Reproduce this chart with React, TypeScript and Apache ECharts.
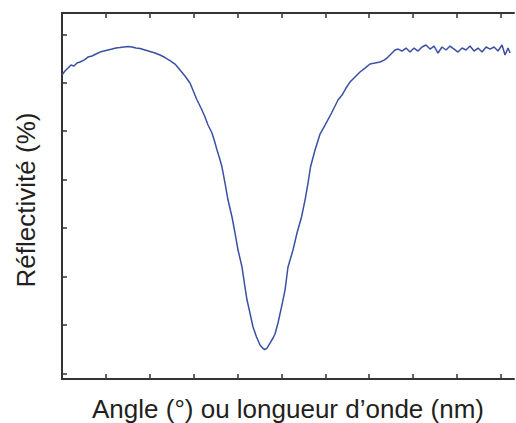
import React, { useEffect, useRef } from "react";
import * as echarts from "echarts";

// Angle (tick units) and reflectivity readings
const angle = [
  0.0, 0.068, 0.137, 0.205, 0.273, 0.342, 0.41, 0.501, 0.592, 0.684, 0.775, 0.866, 0.957, 1.048, 1.139, 1.231,
  1.322, 1.413, 1.504, 1.595, 1.686, 1.778, 1.891, 2.005, 2.119, 2.233, 2.347, 2.461, 2.575, 2.689, 2.803, 2.917,
  3.077, 3.168, 3.259, 3.327, 3.418, 3.475, 3.532, 3.589, 3.646, 3.715, 3.783, 3.874, 3.943, 4.011, 4.102, 4.17,
  4.216, 4.284, 4.353, 4.433, 4.512, 4.581, 4.626, 4.672, 4.74, 4.809, 4.854, 4.922, 5.002, 5.082, 5.15, 5.264,
  5.355, 5.458, 5.538, 5.606, 5.663, 5.766, 5.88, 5.994, 6.142, 6.29, 6.381, 6.472, 6.563, 6.677, 6.791, 6.905,
  7.019, 7.133, 7.247, 7.338, 7.406, 7.498, 7.589, 7.657, 7.748, 7.839, 7.931, 8.022, 8.113, 8.204, 8.295, 8.387,
  8.478, 8.569, 8.66, 8.751, 8.842, 8.934, 9.025, 9.116, 9.207, 9.298, 9.389, 9.48, 9.572, 9.663, 9.754, 9.845,
  9.936, 10.027, 10.096, 10.164, 10.21,
];
const reflectivity = [
  61.6, 62.42, 63.04, 63.66, 63.46, 64.07, 64.28, 64.69, 65.31, 65.52, 65.93, 66.34, 66.55, 66.76, 66.96, 67.17,
  67.27, 67.38, 67.48, 67.38, 67.17, 67.07, 66.76, 66.45, 66.14, 65.73, 65.21, 64.59, 63.87, 62.63, 61.39, 59.95,
  56.44, 54.79, 52.93, 51.28, 49.63, 47.98, 46.12, 44.47, 42.61, 39.31, 35.8, 32.3, 28.99, 25.49, 21.98, 17.85,
  15.17, 12.48, 9.6, 7.53, 5.88, 5.16, 4.95, 5.26, 6.29, 7.33, 8.15, 10.42, 13.72, 17.23, 21.98, 25.49,
  28.99, 32.3, 35.8, 39.31, 42.61, 46.12, 49.42, 51.28, 53.76, 56.44, 57.47, 58.92, 60.15, 61.19, 62.22, 63.04,
  63.87, 64.07, 64.28, 64.69, 65.11, 65.93, 66.76, 66.96, 66.55, 67.17, 66.34, 67.17, 66.55, 67.38, 67.79, 66.96,
  67.58, 66.14, 67.38, 66.76, 67.58, 66.96, 66.34, 67.17, 66.76, 67.58, 66.55, 67.17, 66.34, 67.38, 66.96, 67.38,
  66.55, 67.79, 65.73, 67.17, 66.14,
];
const xTicks = [0, 1, 2, 3, 4, 5, 6, 7, 8, 9, 10];
const yTicks = [0, 10, 20, 30, 40, 50, 60, 70];

const xTitle = "Angle (°) ou longueur d’onde (nm)";
const yTitle = "Réflectivité (%)";

export default function App() {
  const ref = useRef<HTMLDivElement>(null);
  useEffect(() => {
    if (!ref.current) return;
    const chart = echarts.init(ref.current, null, { renderer: "svg" });
    const axisColor = "#333333";
    const tick = {
      show: true,
      inside: true,
      length: 5,
      lineStyle: { color: axisColor, width: 1.5 },
    };
    chart.setOption({
      animation: false,
      backgroundColor: "#ffffff",
      grid: { left: 62, top: 13, right: 2, bottom: 44 },
      xAxis: [
        {
          type: "value",
          min: 0,
          max: 10.3,
          position: "bottom",
          axisLine: { show: true, onZero: false, lineStyle: { color: axisColor, width: 2 } },
          axisTick: { ...tick, customValues: xTicks },
          axisLabel: { show: false },
          splitLine: { show: false },
        },
        {
          type: "value",
          min: 0,
          max: 10.3,
          position: "top",
          axisLine: { show: true, onZero: false, lineStyle: { color: axisColor, width: 2 } },
          axisTick: { ...tick, customValues: xTicks },
          axisLabel: { show: false },
          splitLine: { show: false },
        },
      ],
      yAxis: {
        type: "value",
        min: -1.13,
        max: 74.4,
        axisLine: { show: true, onZero: false, lineStyle: { color: axisColor, width: 2 } },
        axisTick: { ...tick, customValues: yTicks },
        axisLabel: { show: false },
        splitLine: { show: false },
      },
      series: [
        {
          type: "line",
          xAxisIndex: 0,
          data: angle.map((a, i) => [a, reflectivity[i]]),
          showSymbol: false,
          symbol: "none",
          lineStyle: { color: "#3a51a3", width: 1.5 },
          silent: true,
        },
      ],
      graphic: [
        {
          type: "text",
          x: 288,
          y: 409,
          style: {
            text: xTitle,
            fill: "#231f20",
            font: '26px "Liberation Sans", Arial, sans-serif',
            lineHeight: 22,
            align: "center",
            verticalAlign: "middle",
          },
        },
        {
          type: "text",
          x: 26,
          y: 200,
          rotation: Math.PI / 2,
          style: {
            text: yTitle,
            fill: "#231f20",
            font: '26px "Liberation Sans", Arial, sans-serif',
            align: "center",
            verticalAlign: "middle",
          },
        },
      ],
    });
    return () => chart.dispose();
  }, []);
  return <div ref={ref} style={{ width: 516, height: 423, position: "absolute", left: 0, top: 0 }} />;
}
